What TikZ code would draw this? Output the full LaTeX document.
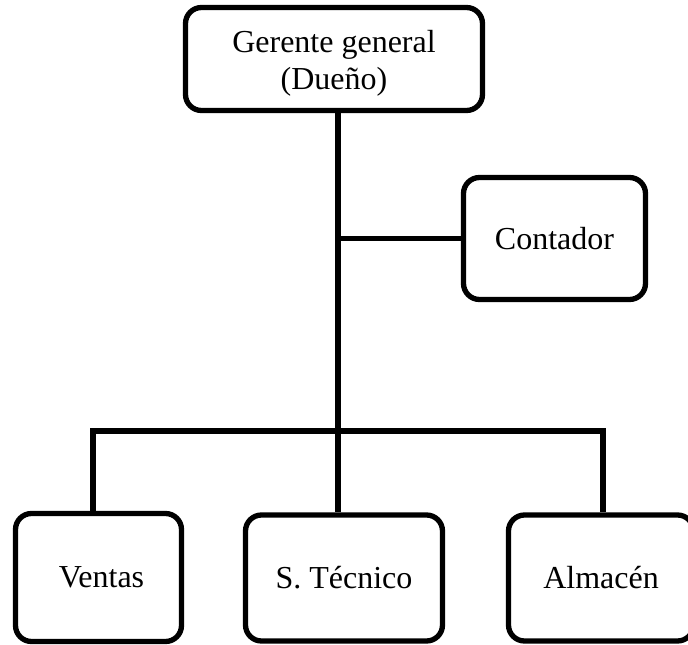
\documentclass[tikz,border=0pt]{standalone}
\usepackage{fontspec}
\setmainfont{Liberation Serif}
\begin{document}
\begin{tikzpicture}[x=1pt,y=-1pt,
  orgbox/.style={draw=black, line width=5.3pt, rounded corners=16pt, rectangle,
    inner sep=0pt, align=center, font=\fontsize{32}{37}\selectfont},
  conn/.style={draw=black, line width=5.3pt, line join=miter}]
\useasboundingbox (0,0) rectangle (688,645);
\clip (0,0) rectangle (688,645);
\node[orgbox, minimum width=297pt, minimum height=103pt] (gerente) at (334,59) {\raisebox{-4pt}[\height][\depth]{\parbox{290pt}{\centering Gerente general\\(Dueño)}}};
\node[orgbox, minimum width=182pt, minimum height=122pt] (contador) at (554.5,238.5) {Contador};
\node[orgbox, minimum width=166pt, minimum height=128pt] (ventas) at (98.5,577.5) {\hspace*{6pt}Ventas};
\node[orgbox, minimum width=197pt, minimum height=126pt] (tecnico) at (344,578) {S. Técnico};
\node[orgbox, minimum width=185pt, minimum height=126pt] (almacen) at (601,578) {Almacén};
\coordinate (bus) at (338,431);
\coordinate (busL) at (93,431);
\coordinate (busR) at (603,431);
\draw[conn] (gerente.south -| bus) -- (tecnico.north -| bus);
\draw[conn] (contador.west) -- (contador.west -| bus);
\draw[conn] (ventas.north -| busL) -- (busL) -- (busR) -- (almacen.north -| busR);
\end{tikzpicture}
\end{document}
